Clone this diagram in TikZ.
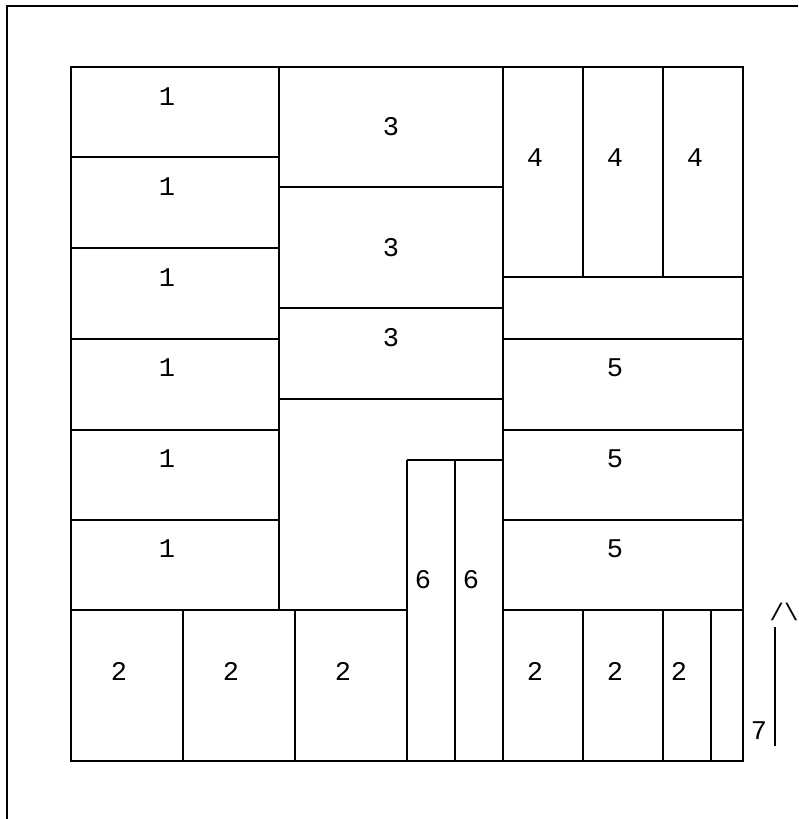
\documentclass[tikz,border=0pt]{standalone}
\usepackage{fontspec}
\setmonofont{Liberation Mono}
\usepackage{tikz}
\colorlet{ink}{black}
\tikzset{
  wall/.style={draw=ink,line width=2pt},
  num/.style={font=\ttfamily\fontsize{27}{27}\selectfont,inner sep=0pt,text=ink}
}
\begin{document}
\begin{tikzpicture}[x=1pt,y=-1pt]
  \useasboundingbox (0,0) rectangle (798,819);
  % frame
  \draw[wall] (7,819) -- (7,6) -- (798,6);
  % block outline
  \draw[wall] (71,67) rectangle (743,761);
  \draw[wall] (279,67) -- (279,610);
  \draw[wall] (503,67) -- (503,761);
  \foreach \hy in {157,248,339,430,520} {\draw[wall] (71,\hy) -- (279,\hy);}
  \foreach \hy in {187,308,399} {\draw[wall] (279,\hy) -- (503,\hy);}
  \foreach \hy in {277,339,430,520,610} {\draw[wall] (503,\hy) -- (743,\hy);}
  \draw[wall] (71,610) -- (407,610);
  \draw[wall] (407,460) -- (503,460);
  \foreach \vx in {583,663} {\draw[wall] (\vx,67) -- (\vx,277);}
  \foreach \vx in {183,295,583,663,711} {\draw[wall] (\vx,610) -- (\vx,761);}
  \foreach \vx in {407,455} {\draw[wall] (\vx,460) -- (\vx,761);}
  % labels
  \foreach \ly [count=\i] in {97,187,278,368,459,549} {\node[num] (one\i) at (167,\ly) {1};}
  \foreach \ly [count=\i] in {127,248,338} {\node[num] (three\i) at (391,\ly) {3};}
  \foreach \lx [count=\i] in {535,615,695} {\node[num] (four\i) at (\lx,158) {4};}
  \foreach \ly [count=\i] in {368,459,549} {\node[num] (five\i) at (615,\ly) {5};}
  \foreach \lx [count=\i] in {423,471} {\node[num] (six\i) at (\lx,580) {6};}
  \foreach \lx [count=\i] in {119,231,343,535,615,679} {\node[num] (two\i) at (\lx,671) {2};}
  \node[num] (seven) at (759,731) {7};
  % arrow
  \node[num,font=\ttfamily\fontsize{24}{24}\selectfont] (tip) at (784,612) {/\textbackslash};
  \coordinate (shaft) at (775,746);
  \draw[wall] (shaft) -- (775,627);
\end{tikzpicture}
\end{document}
